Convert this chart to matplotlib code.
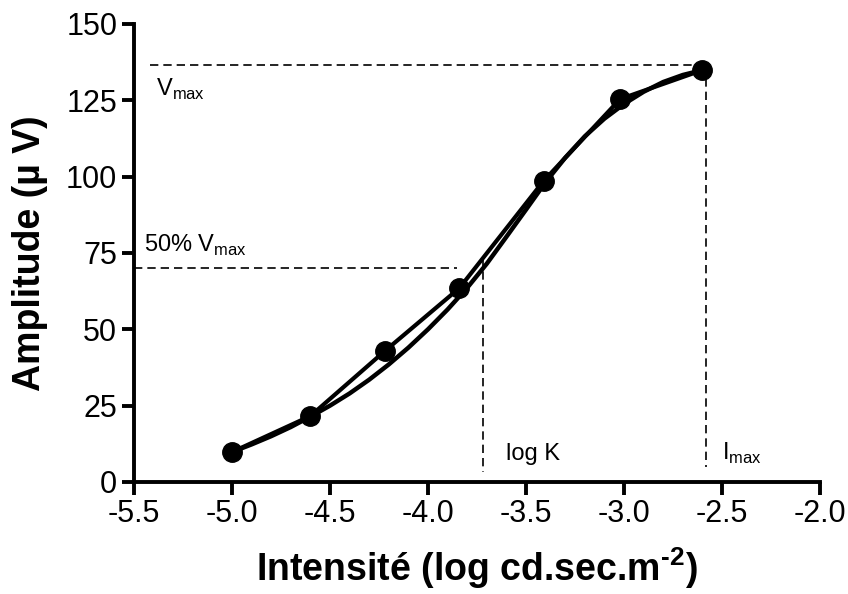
import matplotlib
matplotlib.use("Agg")
import matplotlib.pyplot as plt

plt.rcParams['font.family'] = ['Liberation Sans', 'DejaVu Sans']
plt.rcParams['mathtext.fontset'] = 'custom'
plt.rcParams['mathtext.rm'] = 'Liberation Sans'
plt.rcParams['mathtext.bf'] = 'Liberation Sans:bold'

# Measured points (log intensity vs amplitude)
intensity = [-5.0, -4.6, -4.22, -3.84, -3.41, -3.02, -2.6]
amplitude = [9.8, 21.6, 42.9, 63.5, 98.6, 125.4, 134.9]

# Fitted sigmoid curve
fit_x = [-5.0, -4.9, -4.8, -4.7, -4.6, -4.5, -4.4, -4.3, -4.2, -4.1, -4.0, -3.9, -3.8,
         -3.7, -3.6, -3.5, -3.4, -3.3, -3.2, -3.1, -3.0, -2.9, -2.8, -2.7, -2.6]
fit_y = [9.8, 12.3, 15.0, 18.0, 21.4, 25.0, 29.0, 33.5, 38.5, 44.0, 50.0, 56.5, 63.6,
         71.5, 80.3, 89.2, 98.2, 106.2, 113.2, 119.0, 123.8, 127.8, 131.0, 133.3, 134.9]

# Reference values
v_max = 136.5
half_v = 70.0
log_k = -3.72
i_max = -2.58

x_ticks = [-5.5, -5.0, -4.5, -4.0, -3.5, -3.0, -2.5, -2.0]
y_ticks = [0, 25, 50, 75, 100, 125, 150]

fig = plt.figure(figsize=(8.48, 5.94), dpi=100)
ax = fig.add_axes([0.158, 0.1886, 0.809, 0.771])

# Dashed guide lines
dash = (0, (5, 3))
ax.plot([-5.42, i_max], [v_max, v_max], color='black', lw=1.2, ls=dash)
ax.plot([-5.5, -3.85], [half_v, half_v], color='black', lw=1.2, ls=dash)
ax.plot([log_k, log_k], [73.4, 3.3], color='black', lw=1.2, ls=dash)
ax.plot([i_max, i_max], [v_max, 4.9], color='black', lw=1.2, ls=dash)

# Data and fit
ax.plot(fit_x, fit_y, color='black', lw=3.2)
ax.plot(intensity, amplitude, color='black', lw=3.0, marker='o', markersize=14)

# Annotations
ax.text(-5.39, 126.4, r'V$_{\mathrm{max}}$', fontsize=17, va='baseline', ha='left')
ax.text(-5.45, 75.4, r'50% V$_{\mathrm{max}}$', fontsize=17, va='baseline', ha='left')
ax.text(-3.6, 7.2, 'log K', fontsize=17, va='baseline', ha='left')
ax.text(-2.5, 7.2, r'I$_{\mathrm{max}}$', fontsize=17, va='baseline', ha='left')

ax.set_xlim(-5.5, -2.0)
ax.set_ylim(0, 150)
ax.set_xticks(x_ticks)
ax.set_xticklabels(['%.1f' % t for t in x_ticks])
ax.set_yticks(y_ticks)

for side in ['top', 'right']:
    ax.spines[side].set_visible(False)
for side in ['left', 'bottom']:
    ax.spines[side].set_linewidth(2.8)

ax.tick_params(direction='out', length=9, width=2.8, labelsize=22, pad=3)

ax.set_ylabel('Amplitude (µ V)', fontsize=27, fontweight='bold', labelpad=13)
ax.set_xlabel('Intensité (log cd.sec.m$^{\\mathbf{\u20102}}$)', fontsize=27, fontweight='bold', labelpad=12)

plt.savefig('out.png', dpi=100)
